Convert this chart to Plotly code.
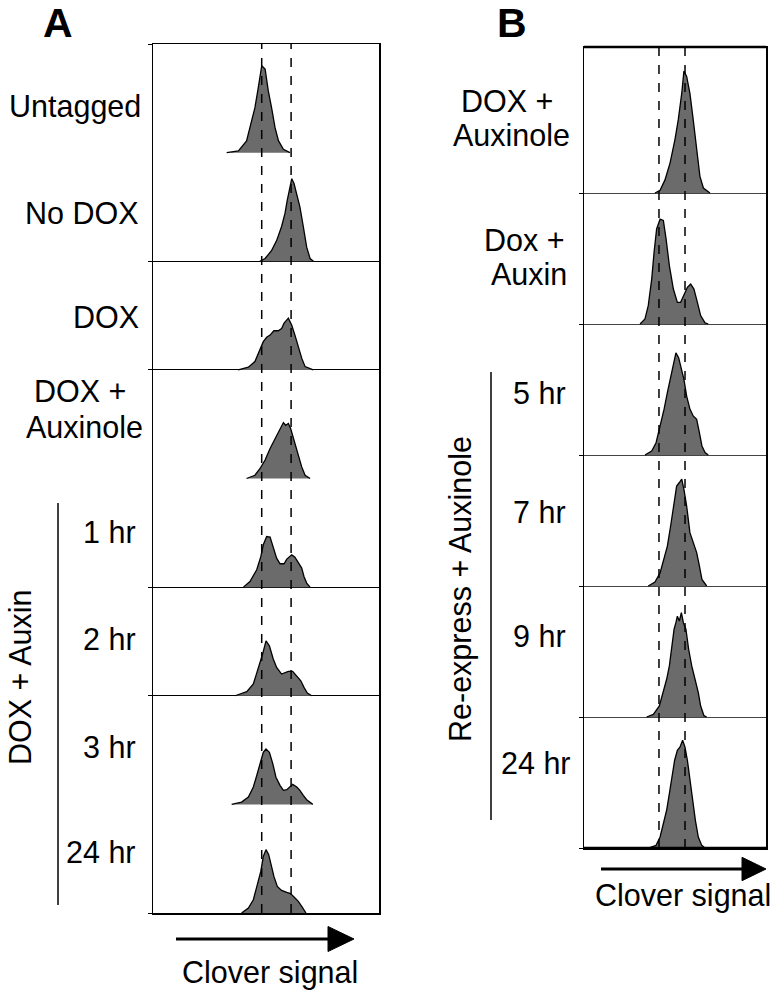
import plotly.graph_objects as go

# ---------------- data: Clover signal histograms (x: signal, arbitrary 0-100 scale; y: relative count) ----------------
# Panel A rows (top to bottom)
a_labels = ["Untagged", "No DOX", "DOX", "DOX +|Auxinole", "1 hr", "2 hr", "3 hr", "24 hr"]
a_group_label = "DOX + Auxin"

untagged_x = [32.6, 37.8, 41.4, 42.9, 45.1, 46.6, 48.1, 49.6, 51.0, 52.5, 54.0, 55.5, 57.7, 60.6]
untagged_y = [0, 0.016, 0.108, 0.23, 0.414, 0.60, 0.80, 0.77, 0.57, 0.41, 0.23, 0.11, 0.03, 0]

nodox_x = [47.3, 49.6, 52.5, 54.7, 56.9, 58.4, 59.4, 60.6, 61.4, 62.4, 63.6, 65.0, 66.5, 68.0, 69.5, 71.0]
nodox_y = [0, 0.025, 0.10, 0.19, 0.32, 0.44, 0.56, 0.68, 0.76, 0.715, 0.62, 0.50, 0.32, 0.13, 0.025, 0]

dox_x = [37.7, 42.2, 45.1, 47.3, 48.8, 50.3, 51.8, 53.5, 55.4, 56.9, 58.0, 59.9, 61.4, 62.8, 64.3, 65.8, 67.3, 70.9]
dox_y = [0, 0.025, 0.077, 0.18, 0.26, 0.30, 0.32, 0.36, 0.36, 0.38, 0.43, 0.476, 0.41, 0.32, 0.215, 0.108, 0.03, 0]

doxaux_x = [41.4, 45.1, 47.3, 49.6, 51.8, 54.0, 55.4, 56.9, 57.7, 58.7, 59.9, 60.9, 62.4, 64.3, 65.8, 67.3, 69.5]
doxaux_y = [0, 0.03, 0.09, 0.17, 0.276, 0.368, 0.43, 0.49, 0.515, 0.49, 0.506, 0.46, 0.353, 0.23, 0.107, 0.03, 0]

hr1_x = [40.0, 42.9, 45.9, 47.7, 48.8, 50.3, 51.8, 53.2, 54.7, 56.2, 58.0, 59.2, 61.4, 62.8, 64.3, 65.8, 66.8, 68.0, 69.5]
hr1_y = [0, 0.052, 0.16, 0.28, 0.39, 0.466, 0.46, 0.374, 0.267, 0.215, 0.215, 0.258, 0.297, 0.276, 0.22, 0.175, 0.098, 0.037, 0]

hr2_x = [36.3, 41.5, 44.4, 46.6, 48.5, 50.0, 51.5, 53.2, 54.7, 56.9, 58.4, 59.9, 61.8, 63.6, 65.4, 66.8, 68.3, 70.2]
hr2_y = [0, 0.037, 0.108, 0.246, 0.384, 0.506, 0.46, 0.338, 0.26, 0.20, 0.215, 0.225, 0.225, 0.184, 0.138, 0.077, 0.025, 0]

hr3_x = [34.8, 39.2, 42.2, 44.4, 46.1, 47.7, 48.8, 50.0, 51.5, 53.0, 54.4, 56.2, 57.7, 59.2, 60.6, 61.8, 63.6, 65.0, 66.5, 68.0, 70.7]
hr3_y = [0, 0.021, 0.067, 0.16, 0.28, 0.405, 0.48, 0.51, 0.48, 0.375, 0.25, 0.175, 0.129, 0.135, 0.16, 0.184, 0.16, 0.129, 0.083, 0.043, 0]

hr24_x = [39.2, 42.2, 44.4, 46.1, 47.7, 48.8, 50.0, 51.2, 52.3, 53.5, 55.0, 56.9, 59.2, 60.9, 62.4, 64.3, 65.8, 67.7]
hr24_y = [0, 0.046, 0.122, 0.245, 0.383, 0.52, 0.583, 0.537, 0.445, 0.337, 0.245, 0.208, 0.19, 0.178, 0.147, 0.107, 0.061, 0]

a_ref_lines = [48.1, 61.1]

# Panel B rows (top to bottom)
b_labels = ["DOX +|Auxinole", "Dox +|Auxin", "5 hr", "7 hr", "9 hr", "24 hr"]
b_group_label = "Re-express + Auxinole"

b_doxaux_x = [39.0, 41.8, 44.5, 47.3, 50.0, 51.8, 53.7, 54.9, 56.4, 58.2, 60.0, 61.9, 63.7, 65.6, 68.3, 69.2]
b_doxaux_y = [0, 0.02, 0.10, 0.23, 0.41, 0.56, 0.76, 0.93, 0.89, 0.76, 0.56, 0.33, 0.127, 0.038, 0.005, 0]

b_doxauxin_x = [30.8, 33.5, 35.3, 37.2, 38.5, 39.9, 41.8, 43.6, 45.1, 46.9, 49.1, 51.3, 53.1, 54.9, 56.8, 58.6, 60.4, 62.3, 64.1, 66.5, 68.3]
b_doxauxin_y = [0, 0.038, 0.14, 0.343, 0.547, 0.725, 0.80, 0.79, 0.65, 0.445, 0.267, 0.165, 0.165, 0.216, 0.28, 0.305, 0.267, 0.165, 0.064, 0.008, 0]

b5_x = [33.5, 37.2, 39.6, 41.8, 44.0, 45.8, 47.6, 49.1, 50.5, 52.0, 53.5, 54.9, 56.4, 58.2, 60.0, 61.9, 63.4, 64.8, 66.5, 68.3]
b5_y = [0, 0.03, 0.094, 0.22, 0.35, 0.476, 0.60, 0.68, 0.78, 0.743, 0.654, 0.578, 0.45, 0.35, 0.298, 0.272, 0.17, 0.069, 0.018, 0]

b7_x = [35.3, 39.0, 41.8, 44.0, 45.8, 47.6, 49.1, 50.9, 52.4, 53.7, 54.9, 56.4, 58.2, 60.0, 61.9, 63.4, 64.8, 67.4]
b7_y = [0, 0.03, 0.10, 0.204, 0.305, 0.458, 0.61, 0.763, 0.79, 0.815, 0.738, 0.61, 0.407, 0.33, 0.255, 0.153, 0.05, 0]

b9_x = [34.4, 38.1, 41.4, 43.6, 45.4, 46.9, 48.2, 49.5, 50.5, 51.3, 52.4, 53.5, 54.6, 56.0, 57.5, 59.2, 61.0, 62.8, 64.1, 65.9, 67.4]
b9_y = [0, 0.02, 0.084, 0.186, 0.288, 0.39, 0.54, 0.67, 0.72, 0.77, 0.733, 0.797, 0.72, 0.67, 0.517, 0.39, 0.288, 0.186, 0.084, 0.01, 0]

b24_x = [35.3, 39.6, 41.8, 43.6, 45.4, 46.9, 48.4, 49.8, 51.3, 52.7, 54.2, 55.5, 56.8, 58.2, 59.7, 61.2, 62.8, 64.7, 66.5]
b24_y = [0, 0.02, 0.084, 0.186, 0.288, 0.415, 0.54, 0.67, 0.746, 0.77, 0.822, 0.77, 0.67, 0.517, 0.364, 0.211, 0.084, 0.02, 0]

b_ref_lines = [41.2, 55.5]

axis_title = "Clover signal"

# ---------------- layout helpers ----------------
W, H = 779, 997
FONT = "Arial, Liberation Sans, Helvetica, sans-serif"
FILL = "#6b6b6b"


def px(x):
    return x / W


def py(y):
    return 1 - y / H


a_series = [(untagged_x, untagged_y), (nodox_x, nodox_y), (dox_x, dox_y), (doxaux_x, doxaux_y),
            (hr1_x, hr1_y), (hr2_x, hr2_y), (hr3_x, hr3_y), (hr24_x, hr24_y)]
b_series = [(b_doxaux_x, b_doxaux_y), (b_doxauxin_x, b_doxauxin_y), (b5_x, b5_y),
            (b7_x, b7_y), (b9_x, b9_y), (b24_x, b24_y)]

fig = go.Figure()

nA = len(a_series)
for i, (xs, ys) in enumerate(a_series):
    base = nA - 1 - i
    fig.add_trace(go.Scatter(x=xs, y=[base + v for v in ys], mode="lines", fill="toself",
                             fillcolor=FILL, line=dict(color="black", width=1.3),
                             xaxis="x", yaxis="y", hoverinfo="skip", showlegend=False))

nB = len(b_series)
for i, (xs, ys) in enumerate(b_series):
    base = nB - 1 - i
    fig.add_trace(go.Scatter(x=xs, y=[base + v for v in ys], mode="lines", fill="toself",
                             fillcolor=FILL, line=dict(color="black", width=1.3),
                             xaxis="x2", yaxis="y2", hoverinfo="skip", showlegend=False))

B_TOP = (nB - 1) + 146 / 131

axis_common = dict(showline=True, mirror=True, linecolor="black", linewidth=1.5,
                   zeroline=False, showticklabels=False, fixedrange=True)

fig.update_layout(
    width=W, height=H,
    margin=dict(l=0, r=0, t=0, b=0),
    paper_bgcolor="white", plot_bgcolor="white",
    font=dict(family=FONT, size=30.5, color="black"),
    xaxis=dict(domain=[px(153), px(379)], range=[0, 100], showgrid=False, ticks="", **axis_common),
    yaxis=dict(domain=[py(913), py(44)], range=[0, nA], tickvals=[0, 2, 3, 5, 6, 8],
               ticks="outside", ticklen=4, tickcolor="black", tickwidth=1,
               showgrid=True, gridcolor="black", gridwidth=1, anchor="x", **axis_common),
    xaxis2=dict(domain=[px(584), px(766)], range=[0, 100], showgrid=False, ticks="",
                anchor="y2", **axis_common),
    yaxis2=dict(domain=[py(848), py(47)], range=[0, B_TOP], tickvals=[0, 1, 2, 3, 4, 5],
                ticks="outside", ticklen=4, tickcolor="black", tickwidth=1,
                showgrid=True, gridcolor="#444444", gridwidth=1, anchor="x2", **axis_common),
)

shapes = []
for xv in a_ref_lines:
    shapes.append(dict(type="line", xref="x", yref="y domain", x0=xv, x1=xv, y0=0, y1=1,
                       line=dict(color="black", width=1.5, dash="dash")))
for xv in b_ref_lines:
    shapes.append(dict(type="line", xref="x2", yref="y2 domain", x0=xv, x1=xv, y0=0, y1=1,
                       line=dict(color="black", width=1.5, dash="dash")))
# thicker top / bottom borders of panel B
shapes.append(dict(type="line", xref="paper", yref="paper", x0=px(584), x1=px(766), y0=py(47), y1=py(47),
                   line=dict(color="black", width=2.5)))
shapes.append(dict(type="line", xref="paper", yref="paper", x0=px(584), x1=px(766), y0=py(848), y1=py(848),
                   line=dict(color="black", width=2.5)))
# group brackets
shapes.append(dict(type="line", xref="paper", yref="paper", x0=px(58), x1=px(58), y0=py(503), y1=py(905),
                   line=dict(color="black", width=1.5)))
shapes.append(dict(type="line", xref="paper", yref="paper", x0=px(491), x1=px(491), y0=py(372), y1=py(820),
                   line=dict(color="black", width=1.5)))


# axis arrows
def arrow(x0, x1, head_start, yc, half):
    shapes.append(dict(type="line", xref="paper", yref="paper", x0=px(x0), x1=px(head_start + 2),
                       y0=py(yc), y1=py(yc), line=dict(color="black", width=3)))
    path = "M {} {} L {} {} L {} {} Z".format(px(head_start), py(yc - half), px(x1), py(yc),
                                               px(head_start), py(yc + half))
    shapes.append(dict(type="path", xref="paper", yref="paper", path=path,
                       fillcolor="black", line=dict(color="black", width=1)))


arrow(176, 354, 328, 939, 12.5)
arrow(601, 766, 742, 869, 11.7)
fig.update_layout(shapes=shapes)

ann = []
# panel letters
ann.append(dict(text="<b>A</b>", x=px(58), y=py(23), font=dict(size=41)))
ann.append(dict(text="<b>B</b>", x=px(512), y=py(23), font=dict(size=41)))

# row label positions: list of (x, y, anchor) per line
a_label_pos = [[(143, 107, "right")], [(141, 213, "right")], [(141, 317, "right")],
               [(80, 391, "center"), (84, 427, "center")],
               [(138, 532, "right")], [(138, 639, "right")], [(138, 747, "right")], [(138, 852, "right")]]
b_label_pos = [[(507, 101, "center"), (511, 135, "center")], [(524, 240, "center"), (529, 274, "center")],
               [(568, 393, "right")], [(568, 512, "right")], [(568, 636, "right")], [(573, 763, "right")]]

for labels, positions in ((a_labels, a_label_pos), (b_labels, b_label_pos)):
    for lab, plist in zip(labels, positions):
        for line_text, (lx, ly, al) in zip(lab.split("|"), plist):
            ann.append(dict(text=line_text, x=px(lx), y=py(ly), xanchor=al))

ann.append(dict(text=a_group_label, x=px(20), y=py(678), textangle=-90))
ann.append(dict(text=b_group_label, x=px(460), y=py(589), textangle=-90))
ann.append(dict(text=axis_title, x=px(270), y=py(972)))
ann.append(dict(text=axis_title, x=px(683), y=py(895)))

for a in ann:
    a.setdefault("xanchor", "center")
    a.update(xref="paper", yref="paper", yanchor="middle", showarrow=False)
fig.update_layout(annotations=ann)

fig.write_html("out.html", config={"displayModeBar": False, "staticPlot": True},
               post_script="document.body.style.margin='0px';document.body.style.padding='0px';")
